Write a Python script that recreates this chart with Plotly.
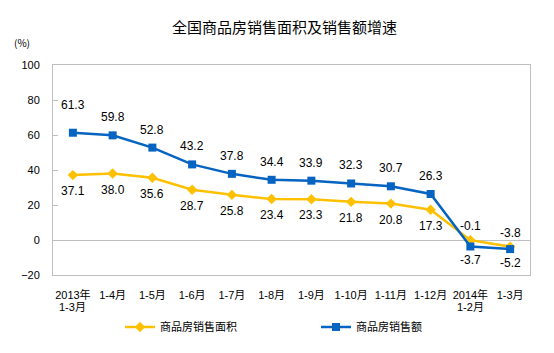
import plotly.graph_objects as go

categories = ["2013年", "1-4月", "1-5月", "1-6月", "1-7月", "1-8月", "1-9月",
              "1-10月", "1-11月", "1-12月", "2014年", "1-3月"]
category_sublines = ["1-3月", "", "", "", "", "", "", "", "", "", "1-2月", ""]
area_growth = [37.1, 38.0, 35.6, 28.7, 25.8, 23.4, 23.3, 21.8, 20.8, 17.3, -0.1, -3.8]
sales_growth = [61.3, 59.8, 52.8, 43.2, 37.8, 34.4, 33.9, 32.3, 30.7, 26.3, -3.7, -5.2]
y_ticks = [-20, 0, 20, 40, 60, 80, 100]

YELLOW = "#FFC000"
BLUE = "#0563C1"
GRAY = "#BFBFBF"
NUM_FONT = "Liberation Sans, Arial, sans-serif"
CJK_FONT = "Noto Sans CJK SC, sans-serif"
MIX_FONT = "Liberation Sans, Noto Sans CJK SC, sans-serif"

xs = list(range(len(categories)))

fig = go.Figure()
fig.add_trace(go.Scatter(
    x=xs, y=area_growth, name="商品房销售面积", mode="lines+markers",
    line=dict(color=YELLOW, width=2.5),
    marker=dict(symbol="diamond", size=8, color=YELLOW),
))
fig.add_trace(go.Scatter(
    x=xs, y=sales_growth, name="商品房销售额", mode="lines+markers",
    line=dict(color=BLUE, width=2.5),
    marker=dict(symbol="square", size=8, color=BLUE),
))

W, H = 554, 353
ml, mr, mt, mb = 53, 24, 65, 78
pw, ph = W - ml - mr, H - mt - mb

annotations = []
n = len(categories)
for i in xs:
    late = i >= n - 2
    annotations.append(dict(
        x=i, y=area_growth[i], text=f"{area_growth[i]:.1f}", showarrow=False,
        xref="x", yref="y", yshift=(14 if late else -16),
        font=dict(family=NUM_FONT, size=12, color="#000000")))
    shift = -14 if late else (28 if i == 0 else 18)
    annotations.append(dict(
        x=i, y=sales_growth[i], text=f"{sales_growth[i]:.1f}", showarrow=False,
        xref="x", yref="y", yshift=shift,
        font=dict(family=NUM_FONT, size=12, color="#000000")))
    if category_sublines[i]:
        annotations.append(dict(
            x=i, y=(H - 307 - mb) / ph, xref="x", yref="paper",
            text=category_sublines[i], showarrow=False,
            xanchor="center", yanchor="middle",
            font=dict(family=MIX_FONT, size=11, color="#000000")))

annotations.append(dict(
    text="全国商品房销售面积及销售额增速",
    x=(284 - ml) / pw, y=(H - 27 - mb) / ph, xanchor="center", yanchor="middle",
    xref="paper", yref="paper", showarrow=False,
    font=dict(family=CJK_FONT, size=15, color="#000000")))
annotations.append(dict(
    text="(%)", x=(22 - ml) / pw, y=(H - 43 - mb) / ph, xanchor="center", yanchor="middle",
    xref="paper", yref="paper", showarrow=False,
    font=dict(family=CJK_FONT, size=10, color="#000000")))

ymin, ymax = y_ticks[0], y_ticks[-1]

fig.update_layout(
    width=W, height=H,
    margin=dict(l=ml, r=mr, t=mt, b=mb),
    paper_bgcolor="white", plot_bgcolor="white",
    showlegend=True,
    legend=dict(orientation="h", x=(120 - ml) / pw, y=(H - 327 - mb) / ph,
                xanchor="left", yanchor="middle",
                font=dict(family=CJK_FONT, size=11, color="#000000"),
                entrywidthmode="pixels", entrywidth=151),
    annotations=annotations,
    xaxis=dict(
        range=[-0.5, n - 0.5], tickmode="array", tickvals=xs, ticktext=categories,
        showline=True, linecolor=GRAY, linewidth=1, mirror=True,
        showgrid=False, zeroline=False, ticks="", ticklabelstandoff=10,
        tickfont=dict(family=MIX_FONT, size=11, color="#000000"),
    ),
    xaxis2=dict(
        range=[-0.5, n - 0.5], overlaying="x", anchor="free",
        position=(0 - ymin) / (ymax - ymin),
        tickmode="array", tickvals=[i + 0.5 for i in xs[:-1]],
        ticks="outside", ticklen=5, tickcolor=GRAY, showticklabels=False,
        showline=False, showgrid=False, zeroline=False,
    ),
    yaxis=dict(
        range=[ymin, ymax], tickmode="array", tickvals=y_ticks,
        ticks="inside", ticklen=5, tickcolor=GRAY, ticklabelstandoff=10,
        showline=True, linecolor=GRAY, linewidth=1, mirror=True,
        showgrid=False, zeroline=True, zerolinecolor=GRAY, zerolinewidth=1,
        tickfont=dict(family=NUM_FONT, size=11, color="#000000"),
    ),
)

fig.write_html("out.html")
